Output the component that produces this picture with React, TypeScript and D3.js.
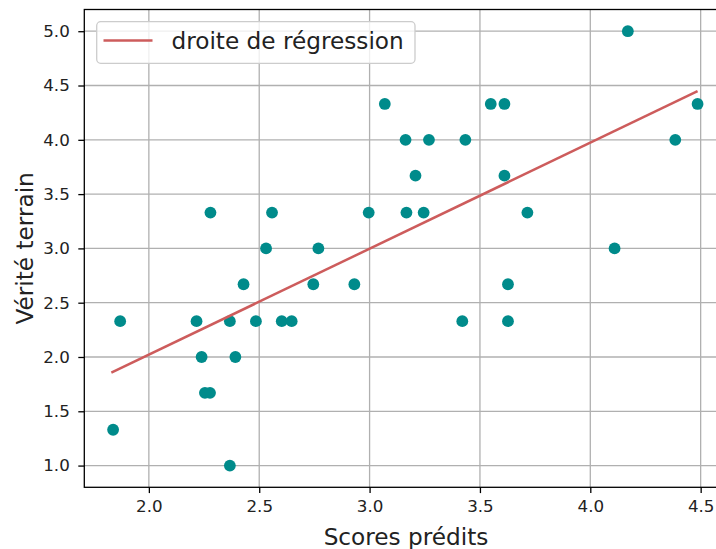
import React, { useEffect, useRef } from "react";
import * as d3 from "d3";

const predicted = [
  1.838, 1.87, 2.216, 2.239, 2.254, 2.277, 2.279, 2.367, 2.367, 2.392,
  2.429, 2.485, 2.531, 2.558, 2.602, 2.647, 2.745, 2.768, 2.931, 2.996,
  3.069, 3.163, 3.167, 3.208, 3.245, 3.269, 3.42, 3.434, 3.549, 3.611,
  3.611, 3.627, 3.627, 3.715, 4.11, 4.17, 4.385, 4.486,
];
const truth = [
  1.33, 2.33, 2.33, 2.0, 1.67, 1.67, 3.33, 2.33, 1.0, 2.0,
  2.67, 2.33, 3.0, 3.33, 2.33, 2.33, 2.67, 3.0, 2.67, 3.33,
  4.33, 4.0, 3.33, 3.67, 3.33, 4.0, 2.33, 4.0, 4.33, 4.33,
  3.67, 2.67, 2.33, 3.33, 3.0, 5.0, 4.0, 4.33,
];
// regression line end points
const lineX = [1.83, 4.486];
const lineY = [1.855, 4.448];

const xTicks = [2.0, 2.5, 3.0, 3.5, 4.0, 4.5];
const yTicks = [1.0, 1.5, 2.0, 2.5, 3.0, 3.5, 4.0, 4.5, 5.0];

const W = 716;
const H = 549;
const margin = { left: 84.3, top: 9.5, right: 727.7, bottom: 487.3 };
const FONT = "DejaVu Sans, sans-serif";

const App = () => {
  const ref = useRef<SVGSVGElement>(null);

  useEffect(() => {
    const svg = d3.select(ref.current);
    svg.selectAll("*").remove();

    const x = d3.scaleLinear().domain([1.7075, 4.6225]).range([margin.left, margin.right]);
    const y = d3.scaleLinear().domain([0.8, 5.2]).range([margin.bottom, margin.top]);

    const g = svg.append("g");

    // grid
    g.selectAll(".gx")
      .data(xTicks)
      .join("line")
      .attr("x1", (d) => x(d))
      .attr("x2", (d) => x(d))
      .attr("y1", margin.top)
      .attr("y2", margin.bottom)
      .attr("stroke", "#b0b0b0")
      .attr("stroke-width", 1.3);
    g.selectAll(".gy")
      .data(yTicks)
      .join("line")
      .attr("x1", margin.left)
      .attr("x2", margin.right)
      .attr("y1", (d) => y(d))
      .attr("y2", (d) => y(d))
      .attr("stroke", "#b0b0b0")
      .attr("stroke-width", 1.3);

    // points
    g.selectAll(".pt")
      .data(predicted)
      .join("circle")
      .attr("cx", (d) => x(d))
      .attr("cy", (d, i) => y(truth[i]))
      .attr("r", 5.9)
      .attr("fill", "#008b8b");

    // regression line
    const line = d3
      .line<number>()
      .x((d) => x(d))
      .y((d, i) => y(lineY[i]));
    g.append("path")
      .datum(lineX)
      .attr("d", line)
      .attr("fill", "none")
      .attr("stroke", "#cd5c5c")
      .attr("stroke-width", 2.5);

    // spines
    g.append("rect")
      .attr("x", margin.left)
      .attr("y", margin.top)
      .attr("width", margin.right - margin.left)
      .attr("height", margin.bottom - margin.top)
      .attr("fill", "none")
      .attr("stroke", "#000")
      .attr("stroke-width", 1.3);

    // x axis
    const xAxis = g
      .append("g")
      .attr("transform", `translate(0, ${margin.bottom})`)
      .call(d3.axisBottom(x).tickValues(xTicks).tickSize(5.8).tickPadding(7.5).tickFormat(d3.format(".1f")));
    xAxis.select(".domain").remove();
    xAxis.selectAll("line").attr("stroke-width", 1.3);
    xAxis.selectAll("text").attr("font-family", FONT).attr("font-size", 16.7).attr("fill", "#222");

    // y axis
    const yAxis = g
      .append("g")
      .attr("transform", `translate(${margin.left}, 0)`)
      .call(d3.axisLeft(y).tickValues(yTicks).tickSize(6).tickPadding(8.5).tickFormat(d3.format(".1f")));
    yAxis.select(".domain").remove();
    yAxis.selectAll("line").attr("stroke-width", 1.3);
    yAxis.selectAll("text").attr("font-family", FONT).attr("font-size", 16.7).attr("fill", "#222");

    // axis labels
    svg.append("text")
      .attr("x", (margin.left + margin.right) / 2)
      .attr("y", 544.5)
      .attr("text-anchor", "middle")
      .attr("font-family", FONT)
      .attr("font-size", 23.2)
      .attr("fill", "#222")
      .text("Scores prédits");
    svg.append("text")
      .attr("transform", `translate(33, ${(margin.top + margin.bottom) / 2}) rotate(-90)`)
      .attr("text-anchor", "middle")
      .attr("font-family", FONT)
      .attr("font-size", 23.2)
      .attr("fill", "#222")
      .text("Vérité terrain");

    // legend
    const lg = svg.append("g");
    lg.append("rect")
      .attr("x", 96.7)
      .attr("y", 21.7)
      .attr("width", 318.3)
      .attr("height", 41.6)
      .attr("rx", 4)
      .attr("fill", "rgba(255,255,255,0.8)")
      .attr("stroke", "#cccccc")
      .attr("stroke-width", 1.3);
    lg.append("line")
      .attr("x1", 103.5)
      .attr("x2", 152.5)
      .attr("y1", 40.5)
      .attr("y2", 40.5)
      .attr("stroke", "#cd5c5c")
      .attr("stroke-width", 2.5);
    lg.append("text")
      .attr("x", 171.5)
      .attr("y", 48.5)
      .attr("font-family", FONT)
      .attr("font-size", 23.2)
      .attr("fill", "#222")
      .text("droite de régression");
  }, []);

  return (
    <svg
      ref={ref}
      width={W}
      height={H}
      style={{ position: "absolute", left: 0, top: 0, background: "#fff" }}
    />
  );
};

export default App;
